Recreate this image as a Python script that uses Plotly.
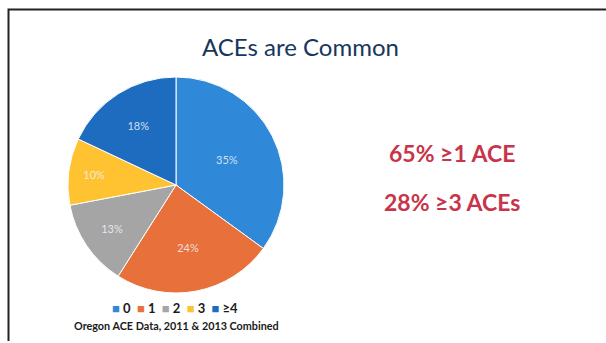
import plotly.graph_objects as go

categories = ["0", "1", "2", "3", "≥4"]
values = [35, 24, 13, 10, 18]
slice_labels = ["35%", "24%", "13%", "10%", "18%"]
colors = ["#2F88D8", "#E8703A", "#A5A5A5", "#FFC230", "#1E6CC0"]
title_text = "ACEs are Common"
stat_lines = ["65% ≥1 ACE", "28% ≥3 ACEs"]
caption = "Oregon ACE Data, 2011 &amp; 2013 Combined"

W, H = 606, 343
def px_x(x): return x / W
def px_y(y): return 1 - y / H

cx, cy, r = 176, 185, 108

fig = go.Figure(go.Pie(
    labels=categories, values=values, text=slice_labels,
    textinfo="text", textposition="inside", insidetextorientation="horizontal",
    sort=False, direction="clockwise", rotation=0,
    marker=dict(colors=colors, line=dict(color="white", width=1)),
    textfont=dict(family="Lato", size=11, color="rgba(240,244,250,0.85)"),
    domain=dict(x=[px_x(cx - r), px_x(cx + r)], y=[px_y(cy + r), px_y(cy - r)]),
    showlegend=False, hoverinfo="label+percent",
))

def note(text, x, y, size, color):
    return dict(text=text, x=px_x(x), y=px_y(y), xref="paper", yref="paper",
                xanchor="center", yanchor="middle", showarrow=False,
                font=dict(family="Lato", size=size, color=color))

ann = [note(title_text, 300, 47, 24, "#17375E")]
for i, t in enumerate(stat_lines):
    ann.append(note("<b>" + t + "</b>", 452, 153 + 49 * i, 23, "#C8344A"))
legend_parts = []
for c, col in zip(categories, colors):
    legend_parts.append("<span style='color:%s'>■</span> %s" % (col, c))
ann.append(note("<b>" + "  ".join(legend_parts) + "</b>", 175, 308, 13, "#1a1a1a"))
ann.append(note("<b>" + caption + "</b>", 176, 325, 10.8, "#1a1a1a"))

shapes = [dict(type="path", xref="paper", yref="paper",
               path="M %f %f L %f %f L %f %f" % (px_x(8.5), px_y(341), px_x(8.5), px_y(9.5), px_x(606), px_y(9.5)),
               line=dict(color="#222222", width=2))]

fig.update_layout(width=W, height=H, margin=dict(l=0, r=0, t=0, b=0),
                  paper_bgcolor="white", plot_bgcolor="white",
                  annotations=ann, shapes=shapes)
fig.write_html("out.html")
